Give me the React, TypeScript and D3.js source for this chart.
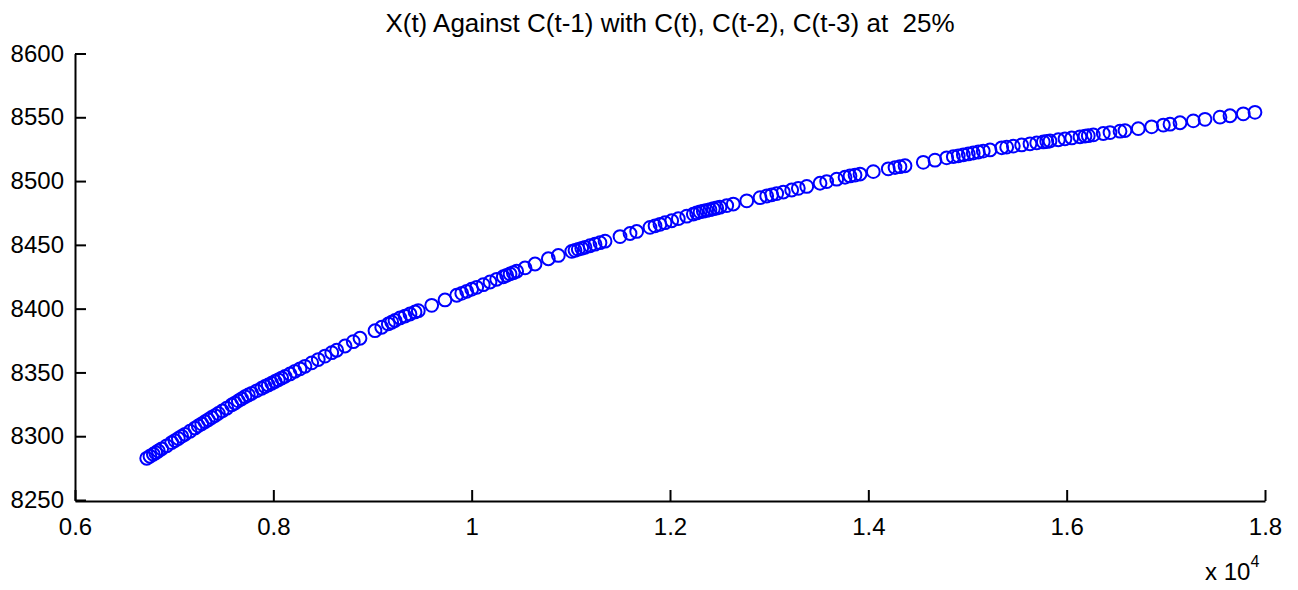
import { useEffect, useRef } from 'react';
import * as d3 from 'd3';

// C(t-1) values (raw, shown on axis as x 10^4)
const xValues = [
  6723, 6756, 6790, 6814, 6840, 6874, 6925, 6975, 7008, 7042, 7076, 7109, 7160, 7210, 7243, 7278,
  7311, 7344, 7378, 7412, 7445, 7485, 7530, 7580, 7613, 7647, 7681, 7714, 7748, 7782, 7832, 7883,
  7916, 7949, 7984, 8017, 8050, 8084, 8118, 8168, 8218, 8269, 8319, 8387, 8453, 8521, 8589,
  8639, 8723, 8806, 8874, 9025, 9093, 9159, 9194, 9227, 9277, 9328, 9378, 9429, 9462, 9597, 9731,
  9849, 9900, 9950, 10000, 10051, 10117, 10185, 10252, 10319, 10353, 10387, 10420, 10454, 10538,
  10639, 10773, 10874, 11009, 11042, 11075, 11110, 11143,
  11193, 11244, 11294, 11345, 11496, 11597, 11664, 11798, 11849, 11899, 11950, 12017, 12084, 12168,
  12235, 12269,
  12303, 12336, 12370, 12403, 12437, 12471, 12504, 12572, 12638, 12774, 12908, 12975, 13025, 13076,
  13143, 13227, 13294, 13379, 13513, 13580,
  13681, 13765, 13815, 13866, 13916, 14050, 14201, 14269, 14319, 14370, 14554, 14672, 14790, 14857,
  14907, 14958, 15008, 15058, 15109, 15159, 15227,
  15345, 15395, 15462, 15546, 15630, 15698, 15764, 15799, 15832, 15916, 15983, 16051, 16134, 16185,
  16218, 16269, 16369, 16437, 16538, 16588, 16722, 16857, 16975, 17042, 17143, 17277, 17395, 17546,
  17647, 17781, 17899,
];

// X(t) values
const yValues = [
  8282.7, 8284.3, 8285.9, 8287.1, 8288.4, 8290.1, 8292.5, 8295.0, 8296.6, 8298.2, 8299.9, 8301.5,
  8303.9, 8306.4, 8308.1, 8309.7, 8311.4, 8312.9, 8314.7, 8316.2, 8317.9, 8319.8, 8322.0, 8324.5,
  8326.0, 8327.7, 8329.3, 8331.0, 8332.3, 8333.6, 8335.6, 8337.6, 8339.0, 8340.2, 8341.6, 8342.9,
  8344.2, 8345.6, 8346.9, 8348.8, 8350.9, 8352.8, 8354.8, 8357.5, 8360.1, 8362.8, 8365.5,
  8367.4, 8370.7, 8374.1, 8376.8, 8382.7, 8385.4, 8388.0, 8389.4, 8390.7, 8392.7, 8394.2, 8395.8,
  8397.4, 8398.4, 8402.6, 8406.8, 8410.5, 8412.0, 8413.6, 8415.2, 8416.7, 8418.8, 8420.9, 8423.0,
  8425.0, 8426.1, 8427.2, 8428.2, 8429.3, 8431.9, 8435.0, 8439.1, 8441.7, 8444.9, 8445.7, 8446.5,
  8447.3, 8448.1,
  8449.3, 8450.5, 8451.7, 8452.9, 8456.5, 8458.9, 8460.5, 8463.7, 8464.9, 8466.1, 8467.4, 8468.9,
  8470.5, 8472.5, 8474.1, 8475.0,
  8475.8, 8476.4, 8477.0, 8477.6, 8478.3, 8478.9, 8479.5, 8480.8, 8482.0, 8484.5, 8487.0, 8488.3,
  8489.2, 8490.2, 8491.4, 8493.0, 8494.3, 8495.8, 8498.3, 8499.6,
  8501.5, 8503.0, 8504.0, 8504.7, 8505.5, 8507.4, 8509.6, 8510.6, 8511.3, 8512.0, 8514.7, 8516.4,
  8518.2, 8519.1, 8519.8, 8520.6, 8521.3, 8522.0, 8522.8, 8523.5, 8524.4,
  8526.1, 8526.6, 8527.4, 8528.3, 8529.2, 8529.9, 8530.7, 8531.0, 8531.4, 8532.4, 8533.1, 8533.8,
  8534.7, 8535.3, 8535.6, 8536.2, 8537.3, 8538.0, 8539.1, 8539.6, 8541.1, 8542.5, 8543.9, 8544.6,
  8545.7, 8547.2, 8548.4, 8550.1, 8551.2, 8552.7, 8553.9,
];

const xTicks = [6000, 8000, 10000, 12000, 14000, 16000, 18000];
const xTickLabels = ['0.6', '0.8', '1', '1.2', '1.4', '1.6', '1.8'];
const yTicks = [8250, 8300, 8350, 8400, 8450, 8500, 8550, 8600];

const title = 'X(t) Against C(t-1) with C(t), C(t-2), C(t-3) at  25%';
const FONT = "Arial, 'Liberation Sans', Helvetica, sans-serif";

export default function App() {
  const svgRef = useRef<SVGSVGElement>(null);
  const width = 1298;
  const height = 590;

  useEffect(() => {
    document.body.style.margin = '0';
    if (!svgRef.current) return;
    const svg = d3.select(svgRef.current);
    svg.selectAll('*').remove();

    const x = d3.scaleLinear().domain([6000, 18000]).range([75, 1265]);
    const y = d3.scaleLinear().domain([8250, 8600]).range([500, 53.5]);

    // y axis, ticks pointing inward like MATLAB
    const yAxis = svg.append('g')
      .attr('transform', `translate(${x(6000)},0)`)
      .call(d3.axisLeft(y).tickValues(yTicks).tickSize(-11).tickSizeOuter(0).tickPadding(11)
        .tickFormat(d => String(d)));

    const xAxis = svg.append('g')
      .attr('transform', `translate(0,${y(8250) + 1})`)
      .call(d3.axisBottom(x).tickValues(xTicks).tickSize(-11).tickSizeOuter(0).tickPadding(17)
        .tickFormat((d, i) => xTickLabels[i]));

    [yAxis, xAxis].forEach(a => {
      a.select('.domain').attr('stroke', '#000').attr('stroke-width', 2);
      a.selectAll('.tick line').attr('stroke', '#000').attr('stroke-width', 2);
      a.selectAll('.tick text')
        .attr('fill', '#000')
        .style('font-family', FONT)
        .style('font-size', '24px');
    });

    // points
    svg.append('g')
      .selectAll('circle')
      .data(xValues.map((v, i) => [v, yValues[i]]))
      .enter().append('circle')
      .attr('cx', d => x(d[0]))
      .attr('cy', d => y(d[1]))
      .attr('r', 6.4)
      .attr('fill', 'none')
      .attr('stroke', '#0000ff')
      .attr('stroke-width', 2);

    // title
    svg.append('text')
      .attr('x', (x(6000) + x(18000)) / 2)
      .attr('y', 32)
      .attr('text-anchor', 'middle')
      .style('font-family', FONT)
      .style('font-size', '26px')
      .style('white-space', 'pre')
      .text(title);

    // exponent label
    const expo = svg.append('text')
      .attr('x', 1205)
      .attr('y', 580)
      .style('font-family', FONT)
      .style('font-size', '24px');
    expo.append('tspan').text('x 10');
    expo.append('tspan')
      .attr('dy', -13)
      .style('font-size', '16px')
      .text('4');
  }, []);

  return (
    <svg ref={svgRef} width={width} height={height}
      style={{ display: 'block', background: '#fff' }} />
  );
}
